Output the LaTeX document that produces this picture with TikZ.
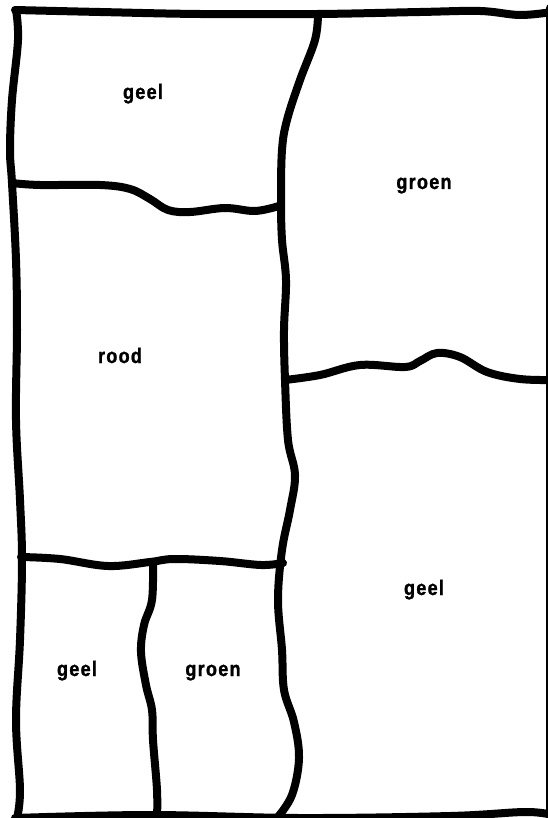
\documentclass[tikz,border=0pt]{standalone}
\usepackage{fontspec}
\newfontfamily\lblfont[FakeStretch=0.86,LetterSpace=6,BoldFeatures={FakeBold=1.2}]{Liberation Sans}
\begin{document}
\begin{tikzpicture}[x=1pt,y=-1pt,
  wall/.style={line width=8pt,line cap=round,line join=round,black},
  lbl/.style={font=\lblfont\bfseries\fontsize{21}{25}\selectfont,anchor=base,inner sep=0pt}]
\useasboundingbox (0,0) rectangle (547,818);
% outer frame
\draw[wall] plot[smooth,tension=0.6] coordinates {(15,10) (100,12) (200,14) (318,14) (420,12) (480,11) (520,15) (552,12)};
\draw[wall] plot[smooth,tension=0.6] coordinates {(16,10) (18,40) (12,100) (10,150) (12,183) (16,260) (17,330) (16,420) (20,500) (22,560) (20,640) (16,720) (20,790) (17,818)};
\draw[wall] (550,8) -- (550,820);
\draw[wall] plot[smooth,tension=0.6] coordinates {(15,818) (150,815) (300,818) (450,816) (525,812) (552,815)};
% middle divider
\draw[wall] plot[smooth,tension=0.6] coordinates {(318,14) (315,40) (300,80) (287,120) (282,150) (281,200) (282,240) (286,280) (284,330) (285,380) (288,440) (295,475) (290,510) (282,550) (278,600) (282,650) (284,690) (294,722) (299,758) (292,795) (277,818)};
% left horizontal 1
\draw[wall] plot[smooth,tension=0.6] coordinates {(12,183) (40,185) (100,185) (130,189) (150,199) (168,210) (190,212) (225,208) (255,211) (279,206)};
% right horizontal
\draw[wall] plot[smooth,tension=0.6] coordinates {(285,380) (320,375) (360,365) (405,367) (420,361) (437,353) (460,357) (487,372) (520,379) (552,380)};
% bottom-left horizontal
\draw[wall] plot[smooth,tension=0.6] coordinates {(21,557) (60,559) (108,566) (150,562) (174,559) (220,561) (261,565) (283,563)};
% small vertical
\draw[wall] plot[smooth,tension=0.6] coordinates {(153,562) (152,600) (144,625) (141,652) (146,685) (152,710) (153,740) (157,790) (157,818)};
% labels
\node[lbl] (g1) at (143,99) {geel};
\node[lbl] (gr1) at (424,189) {groen};
\node[lbl] (r1) at (120,363) {rood};
\node[lbl] (g2) at (424,595) {geel};
\node[lbl] (g3) at (77,676) {geel};
\node[lbl] (gr2) at (213,676) {groen};
\end{tikzpicture}
\end{document}
